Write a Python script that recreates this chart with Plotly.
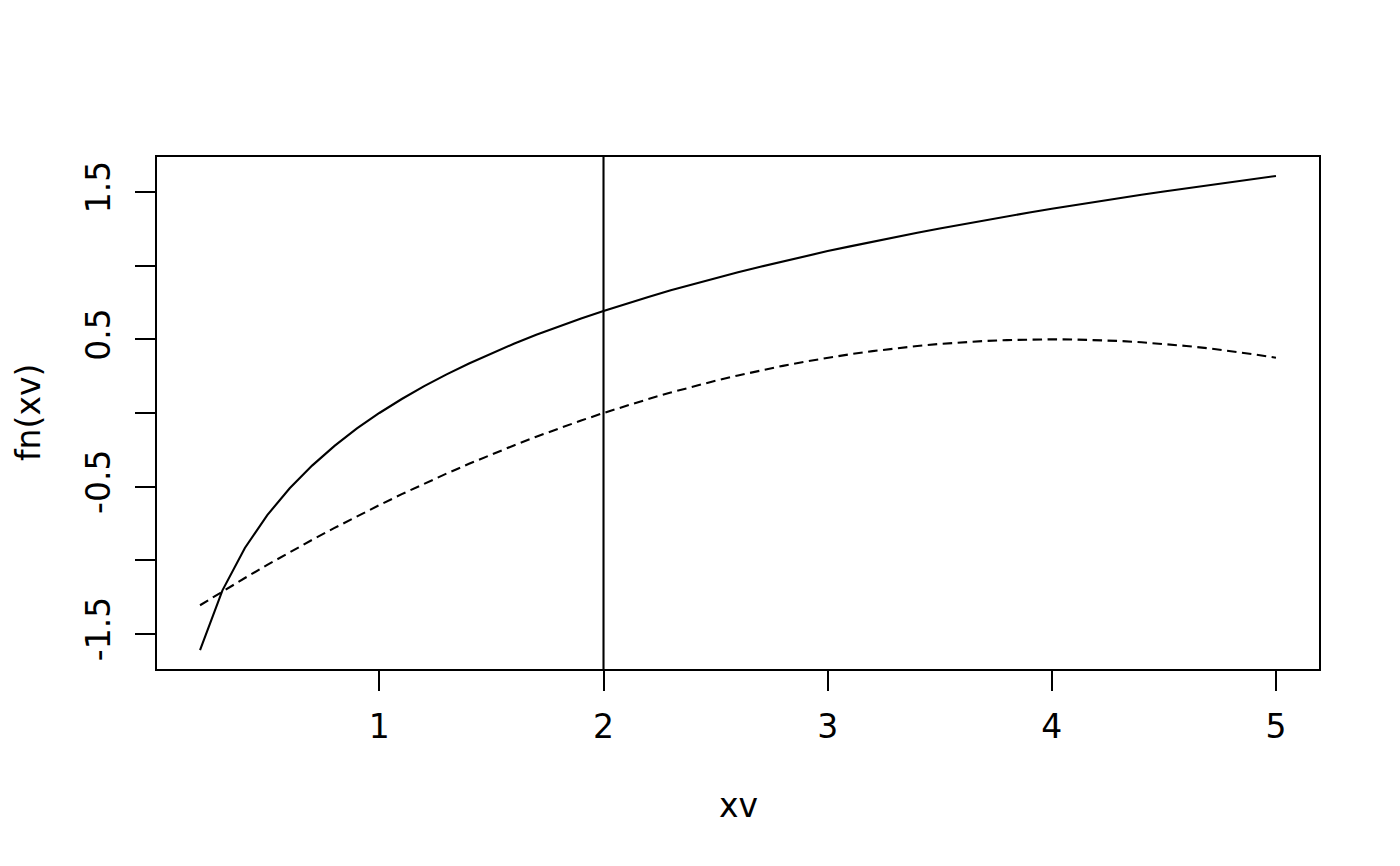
import plotly.graph_objects as go

xv = [0.2, 0.3, 0.4, 0.5, 0.6, 0.7, 0.8, 0.9, 1.0, 1.1, 1.2, 1.3, 1.4, 1.5, 1.6, 1.7,
      1.8, 1.9, 2.0, 2.1, 2.2, 2.3, 2.4, 2.5, 2.6, 2.7, 2.8, 2.9, 3.0, 3.1, 3.2, 3.3,
      3.4, 3.5, 3.6, 3.7, 3.8, 3.9, 4.0, 4.1, 4.2, 4.3, 4.4, 4.5, 4.6, 4.7, 4.8, 4.9, 5.0]
fn_xv = [-1.609, -1.204, -0.916, -0.693, -0.511, -0.357, -0.223, -0.105, 0.0, 0.095,
         0.182, 0.262, 0.336, 0.405, 0.470, 0.531, 0.588, 0.642, 0.693, 0.742, 0.788,
         0.833, 0.875, 0.916, 0.956, 0.993, 1.030, 1.065, 1.099, 1.131, 1.163, 1.194,
         1.224, 1.253, 1.281, 1.308, 1.335, 1.361, 1.386, 1.411, 1.435, 1.459, 1.482,
         1.504, 1.526, 1.548, 1.569, 1.589, 1.609]
approx_xv = [-1.305, -1.211, -1.120, -1.031, -0.945, -0.861, -0.780, -0.701, -0.625,
             -0.551, -0.480, -0.411, -0.345, -0.281, -0.220, -0.161, -0.105, -0.051,
             0.0, 0.049, 0.095, 0.139, 0.180, 0.219, 0.255, 0.289, 0.320, 0.349, 0.375,
             0.399, 0.420, 0.439, 0.455, 0.469, 0.480, 0.489, 0.495, 0.499, 0.500, 0.499,
             0.495, 0.489, 0.480, 0.469, 0.455, 0.439, 0.420, 0.399, 0.375]
vline_x = 2
x_ticks = [1, 2, 3, 4, 5]
y_ticks = [-1.5, -1.0, -0.5, 0.0, 0.5, 1.0, 1.5]
y_ticktext = ["-1.5", "", "-0.5", "", "0.5", "", "1.5"]

FONT = "DejaVu Sans"
FSIZE = 33
fig = go.Figure()
fig.add_trace(go.Scatter(x=xv, y=fn_xv, mode="lines",
                         line=dict(color="black", width=2.1), showlegend=False))
fig.add_trace(go.Scatter(x=xv, y=approx_xv, mode="lines",
                         line=dict(color="black", width=2.1, dash="9.5px,5.5px"), showlegend=False))
fig.add_shape(type="line", x0=vline_x, x1=vline_x, xref="x", y0=0, y1=1, yref="paper",
              line=dict(color="black", width=2.1))

xmin, xmax = min(xv), max(xv)
xpad = 0.04 * (xmax - xmin)
ymin, ymax = min(fn_xv), max(fn_xv)
ypad = 0.04 * (ymax - ymin)

fig.update_layout(
    width=1400, height=866,
    margin=dict(l=149, r=89, t=149, b=205),
    plot_bgcolor="white", paper_bgcolor="white",
    font=dict(family=FONT, size=FSIZE, color="black"),
    xaxis=dict(range=[xmin - xpad, xmax + xpad], tickvals=x_ticks,
               ticks="outside", ticklen=20, tickwidth=2, tickcolor="black",
               showline=True, mirror=True, linecolor="black", linewidth=2,
               showgrid=False, zeroline=False, ticklabelstandoff=7),
    yaxis=dict(range=[ymin - ypad, ymax + ypad], tickvals=y_ticks, ticktext=y_ticktext,
               tickangle=-90,
               ticks="outside", ticklen=20, tickwidth=2, tickcolor="black",
               showline=True, mirror=True, linecolor="black", linewidth=2,
               showgrid=False, zeroline=False, ticklabelstandoff=12),
    annotations=[
        dict(text="xv", xref="paper", yref="paper", x=0.5, y=-(805 - 669) / 512,
             xanchor="center", yanchor="middle", showarrow=False, font=dict(size=FSIZE)),
        dict(text="fn(xv)", xref="paper", yref="paper", x=(28 - 157) / 1162, y=0.5,
             xanchor="center", yanchor="middle", textangle=-90, showarrow=False,
             font=dict(size=FSIZE)),
    ],
)
fig.write_html("out.html")
